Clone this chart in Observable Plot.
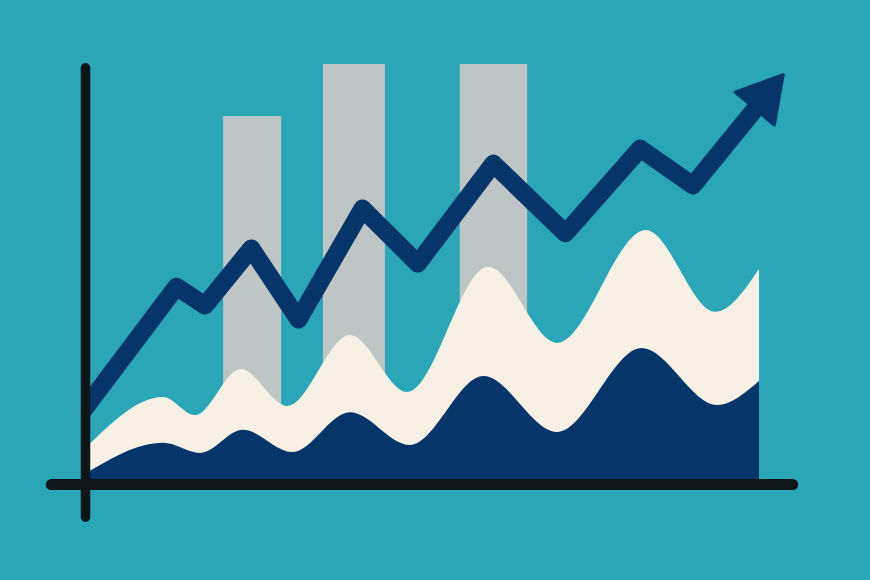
<!DOCTYPE html>
<html>
<head>
<meta charset="utf-8">
<script src="https://cdn.jsdelivr.net/npm/d3@7"></script>
<script src="https://cdn.jsdelivr.net/npm/@observablehq/plot@0.6"></script>
<style>
  html, body { margin: 0; padding: 0; background: #2aa6b7; }
  #chart svg { display: block; }
</style>
</head>
<body>
<div id="chart"></div>
<script>
// Background bars
const barX1 = [20.5, 35.3, 55.6];
const barX2 = [29.1, 44.5, 65.6];
const barY  = [87.6, 100, 100];

// Cream wave area
const creamX = [0, 11.6, 16.3, 23.1, 30.0, 39.3, 47.8, 59.8, 70.0, 83.2, 93.5, 100];
const creamY = [8.4, 20.7, 16.4, 27.4, 18.6, 35.5, 21.9, 51.7, 33.6, 60.5, 41.0, 51.2];

// Navy wave area
const navyX = [0, 11.6, 17.1, 23.4, 30.7, 39.3, 48.2, 59.1, 70.0, 82.6, 93.8, 100];
const navyY = [2.4, 9.8, 7.4, 12.9, 7.6, 17.1, 9.3, 25.7, 12.4, 32.4, 18.8, 24.5];

// Trend line
const trendX = [-1, 13.5, 17.7, 24.6, 31.6, 41.1, 49.3, 60.5, 71.2, 82.3, 90.1, 99.3];
const trendY = [16.2, 47.1, 42.6, 56.2, 39.3, 65.7, 52.6, 76.4, 59.8, 80.0, 71.2, 89.3];

// Arrow head
const arrowX = [100.7];
const arrowY = [92.2];
const arrowAngle = [40];

const bars = barX1.map((x1, i) => ({x1, x2: barX2[i], y: barY[i]}));
const cream = creamX.map((x, i) => ({x, y: creamY[i]}));
const navy = navyX.map((x, i) => ({x, y: navyY[i]}));
const trend = trendX.map((x, i) => ({x, y: trendY[i]}));
const arrow = arrowX.map((x, i) => ({x, y: arrowY[i], a: arrowAngle[i]}));

const BG = "#2aa6b7", NAVY = "#06356a", CREAM = "#f7f0e4", GRAY = "#bdc6c5", INK = "#0e161a";

const chart = Plot.plot({
  width: 870,
  height: 580,
  marginLeft: 85,
  marginRight: 43.6,
  marginTop: 64,
  marginBottom: 96,
  x: {domain: [0, 110], axis: null},
  y: {domain: [0, 100], axis: null},
  style: {background: BG, overflow: "visible"},
  marks: [
    Plot.rectY(bars, {x1: "x1", x2: "x2", y1: 0, y2: "y", fill: GRAY}),
    Plot.areaY(cream, {x: "x", y: "y", fill: CREAM, curve: "monotone-x"}),
    Plot.areaY(navy, {x: "x", y: "y", fill: NAVY, curve: "monotone-x"}),
    Plot.line(trend, {x: "x", y: "y", stroke: NAVY, strokeWidth: 18, strokeLinejoin: "round", clip: true}),
    Plot.dot(arrow, {x: "x", y: "y", rotate: "a", symbol: "triangle", r: 19, fill: NAVY, stroke: NAVY, strokeWidth: 3, strokeLinejoin: "round"}),
    Plot.ruleX([0], {y1: -7.9, y2: 99.1, stroke: INK, strokeWidth: 9.5, strokeLinecap: "round"}),
    Plot.ruleY([0], {x1: -5, x2: 105, stroke: INK, strokeWidth: 11, strokeLinecap: "round"})
  ]
});
document.getElementById("chart").appendChild(chart);
</script>
</body>
</html>
